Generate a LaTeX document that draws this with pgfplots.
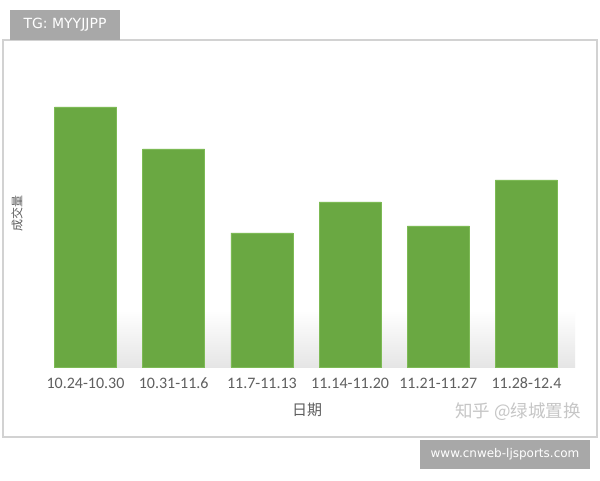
\documentclass[border=0pt]{standalone}
\usepackage{pgfplots}
\pgfplotsset{compat=1.18}
\usepackage{fontspec}
\setmainfont{Carlito}
\newfontfamily\cjk{Noto Sans CJK SC}
\newfontfamily\dv{DejaVu Sans}

\definecolor{bargreen}{HTML}{6AA842}
\definecolor{baredge}{HTML}{7DBA55}
\definecolor{txt}{HTML}{5F5F5F}
\definecolor{boxgray}{HTML}{A8A8A8}

\begin{document}
\begin{tikzpicture}[x=1pt,y=1pt]
% canvas and frame (y up: pixel y -> 480 - y)
\path[use as bounding box] (0,0) rectangle (600,480);
\draw[draw=gray!35, line width=1.2pt, fill=white] (3,43) rectangle (597,440);
% soft floor shadow behind the bars
\shade[top color=white, bottom color=gray!20] (60,113) rectangle (575,170);
% label boxes
\fill[boxgray] (10,440) rectangle (120,470);
\node[text=white, font=\dv\fontsize{14}{16}\selectfont] at (65,455) {TG: MYYJJPP};
\fill[boxgray] (420,11) rectangle (590,40);
\node[text=white, font=\dv\fontsize{12}{14}\selectfont] at (505,25.5) {www.cnweb-ljsports.com};

\begin{axis}[
    at={(85.5pt,113pt)}, anchor=origin,
    scale only axis,
    width=529.2pt, height=307pt,
    xmin=-0.5, xmax=5.5,
    ymin=0, ymax=307,
    axis line style={draw=none},
    tick style={draw=none},
    xtick=data,
    xticklabels={10.24-10.30,10.31-11.6,11.7-11.13,11.14-11.20,11.21-11.27,11.28-12.4},
    xticklabel style={text=txt, font=\fontsize{16}{18}\selectfont,
        text height=11pt, text depth=3pt, yshift=-7pt},
    ytick=\empty,
    clip=false,
]
\addplot[ybar, bar width=62pt, fill=bargreen, draw=baredge, line width=0.6pt]
    coordinates {(0,260) (1,218) (2,134) (3,165) (4,141) (5,187)};
\end{axis}

% axis titles and watermark
\node[text=txt, font=\cjk\fontsize{15}{17}\selectfont] at (307,70) {日期};
\node[text=txt, rotate=90, font=\cjk\fontsize{12}{14}\selectfont] at (17,266) {成交量};
\node[text=gray!45, font=\cjk\fontsize{17.5}{19}\selectfont] at (518,68) {知乎 @绿城置换};
\end{tikzpicture}
\end{document}
